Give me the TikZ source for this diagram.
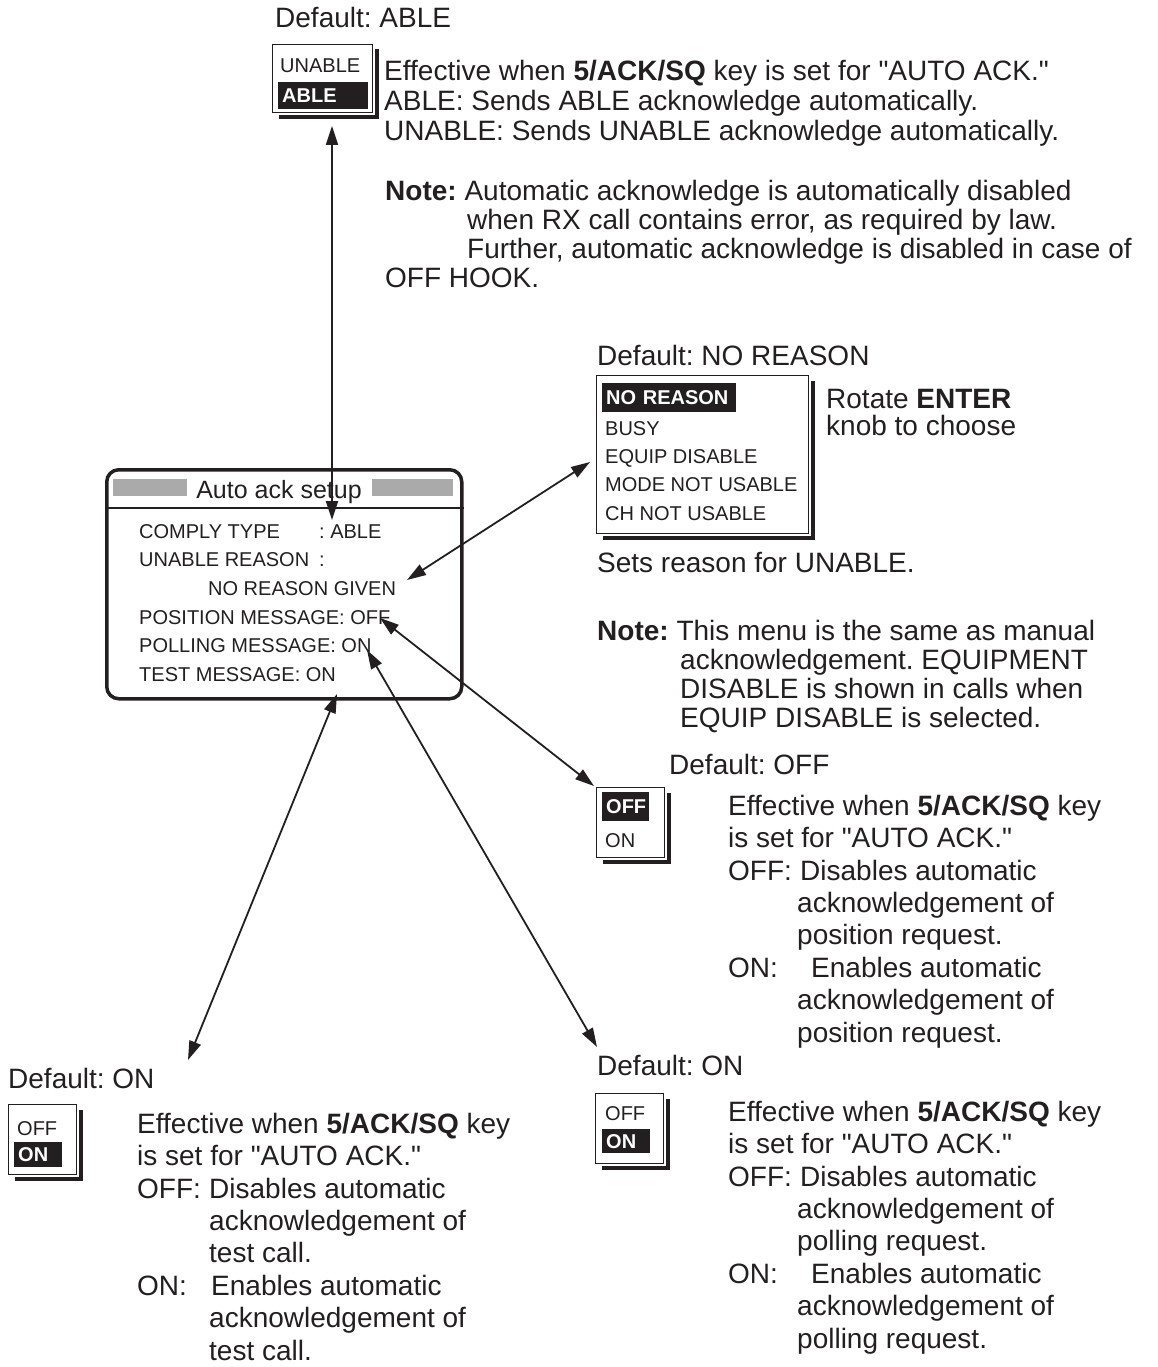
\documentclass[tikz,border=0pt]{standalone}
\usepackage{fontspec}
\setmainfont{Liberation Sans}
\usepackage{xcolor}
\usetikzlibrary{arrows.meta,positioning,calc}
\definecolor{ink}{RGB}{35,31,32}
\definecolor{bar}{RGB}{170,170,170}
\newcommand{\qt}{\textquotedbl}
\frenchspacing
\tikzset{
  txt/.style   = {font=\fontsize{28}{30}\selectfont, text=ink, inner sep=0pt,
                  anchor=base west, align=left},
  loose/.style = {font=\fontsize{28}{32.4}\selectfont},
  menu/.style  = {draw=ink, line width=1.2pt, fill=white, inner sep=0pt,
                  anchor=north west},
  item/.style  = {font=\fontsize{20}{24}\selectfont, text=ink, inner sep=0pt,
                  anchor=base west, align=left},
  pick/.style  = {fill=ink, text=white, font=\bfseries\fontsize{20}{24}\selectfont,
                  inner xsep=4pt, inner ysep=0pt, anchor=north west,
                  align=left, text width=#1},
  shade/.style = {draw=ink, line width=4pt},
  link/.style  = {{Triangle[length=19pt,width=12pt]}-{Triangle[length=19pt,width=12pt]},
                  draw=ink, line width=1.8pt},
}

\begin{document}
\begin{tikzpicture}[x=1pt, y=-1pt]
\useasboundingbox (0,0) rectangle (1157,1367);

% center: the setup screen (multi-line nodes sit on their last line)
\node[draw=ink, line width=3.5pt, rounded corners=12pt, inner sep=0pt,
      minimum width=355pt, minimum height=229pt, anchor=north west] (setup) at (105,468) {};
\draw[ink, line width=1.5pt] ($(setup.north west)+(0,40)$) -- ($(setup.north east)+(0,40)$);
\fill[bar] (113,479) rectangle (187,496);
\fill[bar] (372,479) rectangle (453,496);
\node[font=\fontsize{25}{28}\selectfont, text=ink, inner sep=0pt, anchor=base] (title) at (279,498) {Auto ack setup};
\node[item, font=\fontsize{20}{28.7}\selectfont] (fields) at (139,681.5)
  {\makebox[180pt][l]{COMPLY TYPE}: ABLE\\
   \makebox[180pt][l]{UNABLE REASON}:\\
   \hspace*{69pt}NO REASON GIVEN\\
   POSITION MESSAGE: OFF\\
   POLLING MESSAGE: ON\\
   TEST MESSAGE: ON};

% top: comply type
\node[txt] (dfable) at (275,28) {Default: ABLE};
\node[menu, minimum width=100pt, minimum height=68pt] (ablbox) at (272,44) {};
\draw[shade] ($(ablbox.north east)+(3.5,5)$) |- ($(ablbox.south west)+(7,4)$);
\node[item] (unab) at (280,73) {UNABLE};
\node[pick=82pt, minimum height=27pt] (abl) at (278,82) {ABLE};
\node[txt] (abltxt) at (384,141)
  {Effective when \textbf{5/ACK/SQ} key is set for \qt AUTO ACK.\qt\\
   ABLE: Sends ABLE acknowledge automatically.\\
   UNABLE: Sends UNABLE acknowledge automatically.};
\node[txt, font=\fontsize{28}{29}\selectfont] (ablnote) at (385,287)
  {\textbf{Note:} Automatic acknowledge is automatically disabled\\
   \hspace*{82pt}when RX call contains error, as required by law.\\
   \hspace*{82pt}Further, automatic acknowledge is disabled in case of\\
   OFF HOOK.};

% right: unable reason
\node[txt] (dfrsn) at (597,365) {Default: NO REASON};
\node[menu, minimum width=212pt, minimum height=158pt] (rsnbox) at (596,375) {};
\draw[shade] ($(rsnbox.north east)+(4,6)$) |- ($(rsnbox.south west)+(7,4)$);
\node[pick=126pt, minimum height=29pt] (norsn) at (602,383) {NO REASON};
\node[item, font=\fontsize{20}{28.3}\selectfont] (rsnlist) at (605,520)
  {BUSY\\EQUIP DISABLE\\MODE NOT USABLE\\CH NOT USABLE};
\node[txt, font=\fontsize{28}{27}\selectfont] (rsnhint) at (826,435)
  {Rotate \textbf{ENTER}\\knob to choose};
\node[txt] (rsnset) at (597,572) {Sets reason for UNABLE.};
\node[txt, font=\fontsize{28}{29}\selectfont] (rsnnote) at (597,727)
  {\textbf{Note:} This menu is the same as manual\\
   \hspace*{83pt}acknowledgement. EQUIPMENT\\
   \hspace*{83pt}DISABLE is shown in calls when\\
   \hspace*{83pt}EQUIP DISABLE is selected.};

% right: position message
\node[txt] (dfpos) at (669,774) {Default: OFF};
\node[menu, minimum width=68pt, minimum height=70pt] (posbox) at (596,787) {};
\draw[shade] ($(posbox.north east)+(4,6)$) |- ($(posbox.south west)+(7,4)$);
\node[pick=39pt, minimum height=29pt] (posoff) at (602,792) {OFF};
\node[item] (poson) at (605,847) {ON};
\node[txt, loose] (postxt) at (728,1042)
  {Effective when \textbf{5/ACK/SQ} key\\
   is set for \qt AUTO ACK.\qt\\
   \makebox[72pt][l]{OFF:}Disables automatic\\
   \hspace*{69pt}acknowledgement of\\
   \hspace*{69pt}position request.\\
   \makebox[83pt][l]{ON:}Enables automatic\\
   \hspace*{69pt}acknowledgement of\\
   \hspace*{69pt}position request.};

% bottom right: polling message
\node[txt] (dfpol) at (597,1075) {Default: ON};
\node[menu, minimum width=68pt, minimum height=70pt] (polbox) at (595,1093) {};
\draw[shade] ($(polbox.north east)+(4,6)$) |- ($(polbox.south west)+(7,4)$);
\node[item] (poloff) at (605,1120) {OFF};
\node[pick=40pt, minimum height=24pt] (polon) at (602,1129) {ON};
\node[txt, loose] (poltxt) at (728,1348)
  {Effective when \textbf{5/ACK/SQ} key\\
   is set for \qt AUTO ACK.\qt\\
   \makebox[72pt][l]{OFF:}Disables automatic\\
   \hspace*{69pt}acknowledgement of\\
   \hspace*{69pt}polling request.\\
   \makebox[83pt][l]{ON:}Enables automatic\\
   \hspace*{69pt}acknowledgement of\\
   \hspace*{69pt}polling request.};

% bottom left: test message
\node[txt] (dftst) at (8,1088) {Default: ON};
\node[menu, minimum width=68pt, minimum height=70pt] (tstbox) at (8,1104) {};
\draw[shade] ($(tstbox.north east)+(4,6)$) |- ($(tstbox.south west)+(7,4)$);
\node[item] (tstoff) at (17,1135) {OFF};
\node[pick=40pt, minimum height=25pt] (tston) at (14,1142) {ON};
\node[txt, loose] (tsttxt) at (137,1360)
  {Effective when \textbf{5/ACK/SQ} key\\
   is set for \qt AUTO ACK.\qt\\
   \makebox[72pt][l]{OFF:}Disables automatic\\
   \hspace*{72pt}acknowledgement of\\
   \hspace*{72pt}test call.\\
   \makebox[74pt][l]{ON:}Enables automatic\\
   \hspace*{72pt}acknowledgement of\\
   \hspace*{72pt}test call.};

% pointers from the screen
\coordinate (ablend) at (332,126);
\coordinate (ablptr) at (332,520);
\coordinate (rsnend) at (590,462);
\coordinate (rsnptr) at (407,580);
\coordinate (posend) at (594,786);
\coordinate (posptr) at (380,618);
\coordinate (polend) at (597,1047);
\coordinate (polptr) at (367,650);
\coordinate (tstend) at (188,1060);
\coordinate (tstptr) at (337,694);

\draw[link] (ablend) -- (ablptr);
\draw[link] (rsnend) -- (rsnptr);
\draw[link] (posend) -- (posptr);
\draw[link] (polend) -- (polptr);
\draw[link] (tstend) -- (tstptr);
\end{tikzpicture}
\end{document}
